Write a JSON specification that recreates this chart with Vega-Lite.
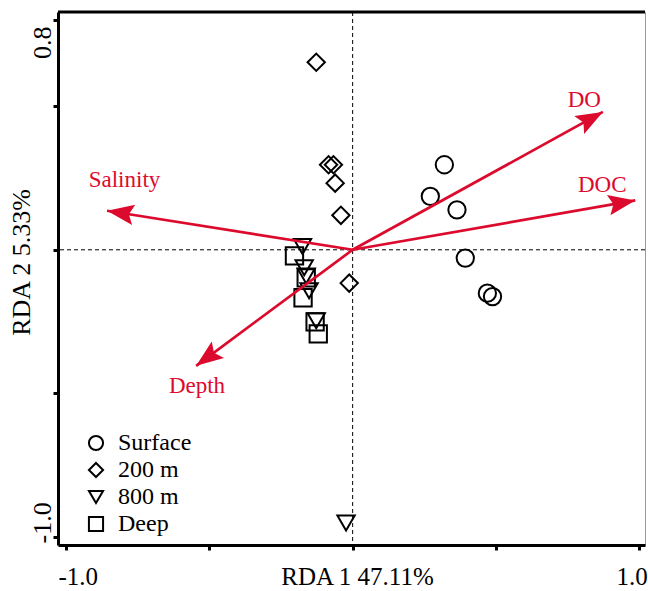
{
  "$schema": "https://vega.github.io/schema/vega-lite/v6.json",
  "width": 587,
  "height": 533,
  "autosize": "none",
  "padding": {"left": 58, "top": 12, "right": 3, "bottom": 46},
  "background": "white",
  "config": {
    "font": "Liberation Serif",
    "view": {"stroke": "#999999", "strokeWidth": 1}
  },
  "datasets": {
    "sites": [
      {"group": "Surface", "x": 0.320, "y": 0.296},
      {"group": "Surface", "x": 0.271, "y": 0.186},
      {"group": "Surface", "x": 0.364, "y": 0.139},
      {"group": "Surface", "x": 0.393, "y": -0.029},
      {"group": "Surface", "x": 0.470, "y": -0.151},
      {"group": "Surface", "x": 0.488, "y": -0.163},
      {"group": "200 m", "x": -0.127, "y": 0.653},
      {"group": "200 m", "x": -0.084, "y": 0.296},
      {"group": "200 m", "x": -0.067, "y": 0.296},
      {"group": "200 m", "x": -0.061, "y": 0.232},
      {"group": "200 m", "x": -0.041, "y": 0.120},
      {"group": "200 m", "x": -0.012, "y": -0.116},
      {"group": "800 m", "x": -0.175, "y": 0.011},
      {"group": "800 m", "x": -0.169, "y": -0.063},
      {"group": "800 m", "x": -0.162, "y": -0.091},
      {"group": "800 m", "x": -0.152, "y": -0.143},
      {"group": "800 m", "x": -0.127, "y": -0.247},
      {"group": "800 m", "x": -0.023, "y": -0.951},
      {"group": "Deep", "x": -0.203, "y": -0.021},
      {"group": "Deep", "x": -0.162, "y": -0.098},
      {"group": "Deep", "x": -0.173, "y": -0.167},
      {"group": "Deep", "x": -0.131, "y": -0.251},
      {"group": "Deep", "x": -0.120, "y": -0.293}
    ],
    "env": [
      {"var": "DO", "x": 0.873, "y": 0.480, "lx": 0.808, "ly": 0.498},
      {"var": "DOC", "x": 0.986, "y": 0.172, "lx": 0.871, "ly": 0.202},
      {"var": "Salinity", "x": -0.857, "y": 0.136, "lx": -0.796, "ly": 0.220},
      {"var": "Depth", "x": -0.546, "y": -0.404, "lx": -0.543, "ly": -0.498}
    ]
  },
  "layer": [
    {
      "data": {"name": "sites"},
      "mark": {"type": "point", "filled": false, "color": "black", "strokeWidth": 2, "size": 300, "opacity": 1},
      "encoding": {
        "x": {
          "field": "x", "type": "quantitative", "title": "RDA 1 47.11%",
          "scale": {"domain": [-1.028, 1.02], "nice": false, "zero": false},
          "axis": {
            "title": "RDA 1 47.11%",
            "values": [-1, -0.5, 0, 0.5, 1],
            "labelExpr": "datum.value == -1 ? '-1.0' : datum.value == 1 ? '1.0' : ''",
            "grid": false,
            "domainColor": "black", "domainWidth": 3,
            "tickColor": "black", "tickWidth": 3, "tickSize": 5,
            "labelFont": "Liberation Serif", "labelFontSize": 25, "labelColor": "black",
            "labelFlush": 15, "labelFlushOffset": 8,
            "labelBaseline": "alphabetic", "labelPadding": 34,
            "titleFont": "Liberation Serif", "titleFontSize": 25, "titleFontWeight": "normal", "titleColor": "black",
            "titleBaseline": "alphabetic", "titleAlign": "center", "titleX": 299, "titleY": 39
          }
        },
        "y": {
          "field": "y", "type": "quantitative", "title": "RDA 2 5.33%",
          "scale": {"domain": [-1.028, 0.828], "nice": false, "zero": false},
          "axis": {
            "title": "RDA 2 5.33%",
            "values": [-1, -0.5, 0, 0.5, 0.8],
            "labelExpr": "datum.value == -1 ? '-1.0' : datum.value == 0.8 ? '0.8' : ''",
            "grid": false,
            "domainColor": "black", "domainWidth": 3,
            "tickColor": "black", "tickWidth": 3, "tickSize": 5,
            "labelFont": "Liberation Serif", "labelFontSize": 26, "labelColor": "black",
            "labelAngle": 270,
            "labelAlign": {"condition": {"test": "datum.value > 0", "value": "right"}, "value": "left"},
            "labelBaseline": "alphabetic", "labelOffset": 6, "labelPadding": 3,
            "titleFont": "Liberation Serif", "titleFontSize": 26, "titleFontWeight": "normal", "titleColor": "black",
            "titleAngle": 270, "titleBaseline": "alphabetic", "titleAlign": "center", "titleX": -29, "titleY": 250
          }
        },
        "shape": {
          "field": "group", "type": "nominal",
          "scale": {"domain": ["Surface", "200 m", "800 m", "Deep"], "range": ["circle", "diamond", "triangle-down", "square"]},
          "legend": {
            "orient": "none", "legendX": 26, "legendY": 419, "title": null,
            "labelFont": "Liberation Serif", "labelFontSize": 24, "labelColor": "black",
            "symbolStrokeColor": "black", "symbolStrokeWidth": 2, "symbolFillColor": "transparent",
            "symbolSize": 200, "rowPadding": 3, "labelOffset": 10, "padding": 0
          }
        }
      }
    },
    {
      "data": {"values": [{"top": 0.828}]},
      "mark": {"type": "rule", "color": "black", "strokeWidth": 3},
      "encoding": {
        "y": {"field": "top", "type": "quantitative", "title": "RDA 2 5.33%"}
      }
    },
    {
      "data": {"values": [{"zero": 0}]},
      "mark": {"type": "rule", "color": "black", "strokeWidth": 1, "strokeDash": [4, 3]},
      "encoding": {
        "x": {"field": "zero", "type": "quantitative", "title": "RDA 1 47.11%"}
      }
    },
    {
      "data": {"values": [{"zero": 0}]},
      "mark": {"type": "rule", "color": "black", "strokeWidth": 1, "strokeDash": [4, 3]},
      "encoding": {
        "y": {"field": "zero", "type": "quantitative", "title": "RDA 2 5.33%"}
      }
    },
    {
      "data": {"name": "env"},
      "mark": {"type": "rule", "color": "#dc0a2d", "strokeWidth": 2.7},
      "encoding": {
        "x": {"field": "x", "type": "quantitative", "title": "RDA 1 47.11%"},
        "y": {"field": "y", "type": "quantitative", "title": "RDA 2 5.33%"},
        "x2": {"datum": 0},
        "y2": {"datum": 0}
      }
    },
    {
      "data": {"name": "env"},
      "transform": [{"calculate": "atan2(datum.x, datum.y) * 180 / PI", "as": "ang"}],
      "mark": {"type": "point", "shape": "M0,0L-0.38,1L0,0.82L0.38,1Z", "filled": true, "color": "#dc0a2d", "opacity": 1, "size": 2916, "strokeWidth": 0},
      "encoding": {
        "x": {"field": "x", "type": "quantitative", "title": "RDA 1 47.11%"},
        "y": {"field": "y", "type": "quantitative", "title": "RDA 2 5.33%"},
        "angle": {"field": "ang", "type": "quantitative", "scale": null}
      }
    },
    {
      "data": {"name": "env"},
      "mark": {"type": "text", "color": "#dc0a2d", "font": "Liberation Serif", "fontSize": 23, "align": "center", "baseline": "alphabetic"},
      "encoding": {
        "x": {"field": "lx", "type": "quantitative", "title": "RDA 1 47.11%"},
        "y": {"field": "ly", "type": "quantitative", "title": "RDA 2 5.33%"},
        "text": {"field": "var"}
      }
    }
  ]
}
